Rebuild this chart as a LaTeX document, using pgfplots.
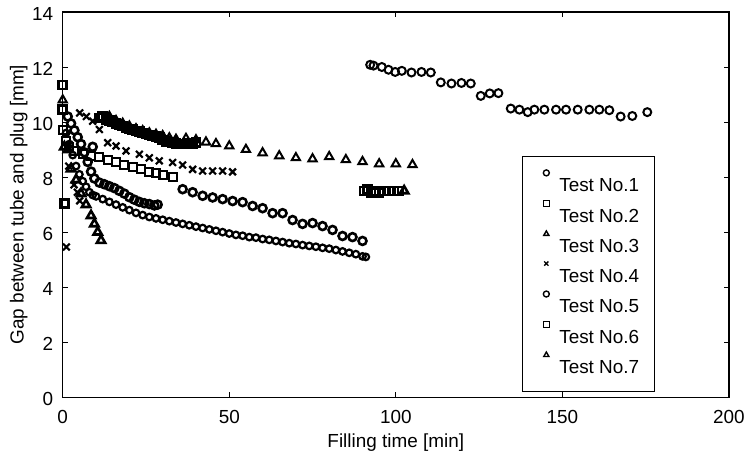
\documentclass[border=0pt]{standalone}
\usepackage{fontspec}
\setmainfont{Liberation Sans}
\usepackage{pgfplots}
\pgfplotsset{compat=1.18}
\pgfplotsset{myleg/.style={legend image code/.code={\path (-0.7cm,0) (0cm,0);\draw[##1,mark size=3pt,line width=1.4pt] plot coordinates {(0cm,13pt)};}}}
\begin{document}
\begin{tikzpicture}[font=\fontsize{19}{22}\selectfont]
\begin{axis}[
 scale only axis, width=669pt, height=387pt,
 xmin=0, xmax=200, ymin=0, ymax=14,
 xtick={0,50,...,200}, ytick={0,2,...,14},
 tick align=inside, major tick length=5pt,
 tick style={black, line width=0.9pt},
 axis line style={line width=1.3pt},
 /pgf/number format/assume math mode=true,
 xticklabel style={yshift=-10pt},
 yticklabel style={xshift=-6pt, yshift=-2pt},
 xlabel={Filling time [min]},
 ylabel={Gap between tube and plug [mm]},
 xlabel style={at={(axis description cs:0.5,-0.118)}, anchor=center},
 ylabel style={at={(axis description cs:-0.066,0.5)}, anchor=center},
 clip=false,
 legend cell align=left,
 legend style={at={(rel axis cs:0.689,0.625)}, anchor=north west, draw=black, line width=1pt,
   inner xsep=3pt, inner ysep=13pt, row sep=4.3pt, nodes={inner sep=3pt},
   /tikz/every odd column/.append style={column sep=7pt}},
]
% Test 1
\addplot[only marks, mark=o, mark size=4pt, line width=2pt, black, myleg] coordinates {
(92.3,12.08)(93.3,12.05)(95.8,12.0)(97.8,11.9)(99.8,11.82)(101.8,11.86)(104.7,11.8)(107.7,11.82)(110.5,11.8)
(113.5,11.44)(116.7,11.4)(119.7,11.42)(122.5,11.4)(125.5,10.95)(128.2,11.04)(130.8,11.05)
(134.5,10.49)(137.1,10.45)(139.6,10.36)(141.6,10.45)(144.6,10.45)(148.1,10.45)(151.1,10.45)(154.6,10.45)
(158.1,10.45)(161.1,10.45)(164.1,10.43)(167.5,10.2)(171,10.22)(175.5,10.36)};
\addlegendentry{\makebox[90pt][l]{Test No.1}}
% Test 2
\addplot[only marks, mark=square, mark size=4pt, line width=2pt, black, myleg] coordinates {
(0,9.7)(1,9.3)(2,9.1)(3.5,8.95)(6,8.83)(8.5,8.78)(11,8.72)(13.5,8.62)(16,8.54)(18.5,8.45)(21,8.36)
(23.5,8.28)(26,8.2)(28,8.14)(30,8.07)(33,8.0)};
\addlegendentry{Test No.2}
% Test 3
\addplot[only marks, mark=triangle, mark size=4.8pt, line width=2pt, black, myleg] coordinates {
(0,10.8)(14,10.2)(16,10.05)(18,9.95)(20,9.85)(22,9.75)(24,9.68)(26,9.6)(28,9.55)(30,9.5)(32,9.42)(34,9.37)
(37,9.4)(40,9.35)(43,9.27)(46,9.21)(50,9.13)(55,9.0)(60,8.88)(65,8.77)(70,8.7)(75,8.66)(80,8.74)
(85,8.63)(90,8.56)(95,8.48)(100,8.48)(105,8.45)};
\addlegendentry{Test No.3}
% Test 4
\addplot[only marks, mark=x, mark size=4.8pt, line width=2.2pt, black, myleg] coordinates {
(1.1,5.46)(1.8,8.4)(3.4,7.72)(4.4,7.45)(5.1,7.14)(5.1,10.33)(7.1,10.2)(9,10.03)(11,9.73)(13.5,9.25)(16,9.13)
(19,8.95)(23,8.83)(26,8.7)(29,8.59)(33,8.53)(36,8.44)(39,8.28)(42,8.22)(45,8.22)(48,8.22)(51,8.19)};
\addlegendentry{Test No.4}
% Test 5
\addplot[only marks, mark=o, mark size=4pt, line width=2.6pt, black, myleg] coordinates {
(1.5,10.2)(2.5,9.95)(3.5,9.7)(4.5,9.45)(5.5,9.2)(6.5,8.9)(7.5,8.55)(9,9.1)(8.5,8.2)(9.5,7.95)(11,7.8)
(12.5,7.74)(14,7.67)(15.5,7.6)(17,7.5)(18.5,7.4)(20,7.27)(21.5,7.18)(23,7.1)(24.5,7.05)(26,7.02)
(27.5,6.97)(28.5,7.0)
(36,7.56)(39,7.45)(42,7.32)(45,7.26)(48,7.2)(51,7.13)(54,7.09)(57,6.95)(60,6.87)(63,6.69)(66,6.69)
(69,6.44)(72,6.3)(75,6.33)(78,6.22)(81,6.08)(84,5.86)(87,5.82)(90,5.68)};
\addlegendentry{Test No.5}
% Test 6
\addplot[only marks, mark=square, mark size=4pt, line width=2.6pt, black, myleg] coordinates {
(0,11.35)(0,10.45)(0.5,7.05)
(11,10.15)(12,10.2)(13,10.1)(14,10.05)(15,10.0)(16,9.95)(17,9.9)(18,9.85)(19,9.8)(20,9.75)(21,9.72)
(22,9.68)(23,9.65)(24,9.6)(25,9.57)(26,9.53)(27,9.5)(28,9.47)(29,9.43)(30,9.35)(31,9.3)(32,9.27)
(33,9.25)(34,9.22)(35,9.2)(36,9.2)(37,9.2)(38,9.22)(39,9.22)(40,9.25)
(90.5,7.5)(91.5,7.55)(92.5,7.45)(93.5,7.5)(95,7.45)(96.5,7.5)(98,7.5)(99.5,7.5)(101,7.5)};
\addlegendentry{Test No.6}
% Test 7
\addplot[only marks, mark=triangle, mark size=4.8pt, line width=2.6pt, black, myleg] coordinates {
(0.5,9.1)(1.6,9.0)(2.5,8.3)(4,7.9)(5.5,7.4)(7,7.0)(8.5,6.6)(9.5,6.3)(10.5,6.0)(11.5,5.7)(102.5,7.5)};
\addlegendentry{Test No.7}
% lower dense series
\addplot[only marks, mark=o, mark size=3.3pt, line width=2.2pt, black, forget plot] coordinates {
(1,9.6)(2,9.2)(3,8.8)(4,8.4)(5,8.1)(6,7.85)(7,7.65)(8,7.45)(9,7.35)(10,7.3)(12,7.2)(14,7.1)(16,7.0)
(18,6.9)(20,6.8)(22,6.7)(24,6.62)(26,6.55)(28,6.5)(30,6.45)(32,6.4)(34,6.35)(36,6.3)(38,6.25)(40,6.2)
(42,6.15)(44,6.1)(46,6.05)(48,6.0)(50,5.95)(52,5.9)(54,5.87)(56,5.82)(58,5.8)(60,5.75)(62,5.72)
(64,5.68)(66,5.64)(68,5.6)(70,5.57)(72,5.53)(74,5.5)(76,5.47)(78,5.43)(80,5.4)(82,5.35)(84,5.3)
(86,5.25)(88,5.2)(90,5.12)(91,5.1)};
\end{axis}
\path (current axis.south west) +(-63pt,-79pt) (current axis.north east) +(16pt,12pt);
\end{tikzpicture}
\end{document}
